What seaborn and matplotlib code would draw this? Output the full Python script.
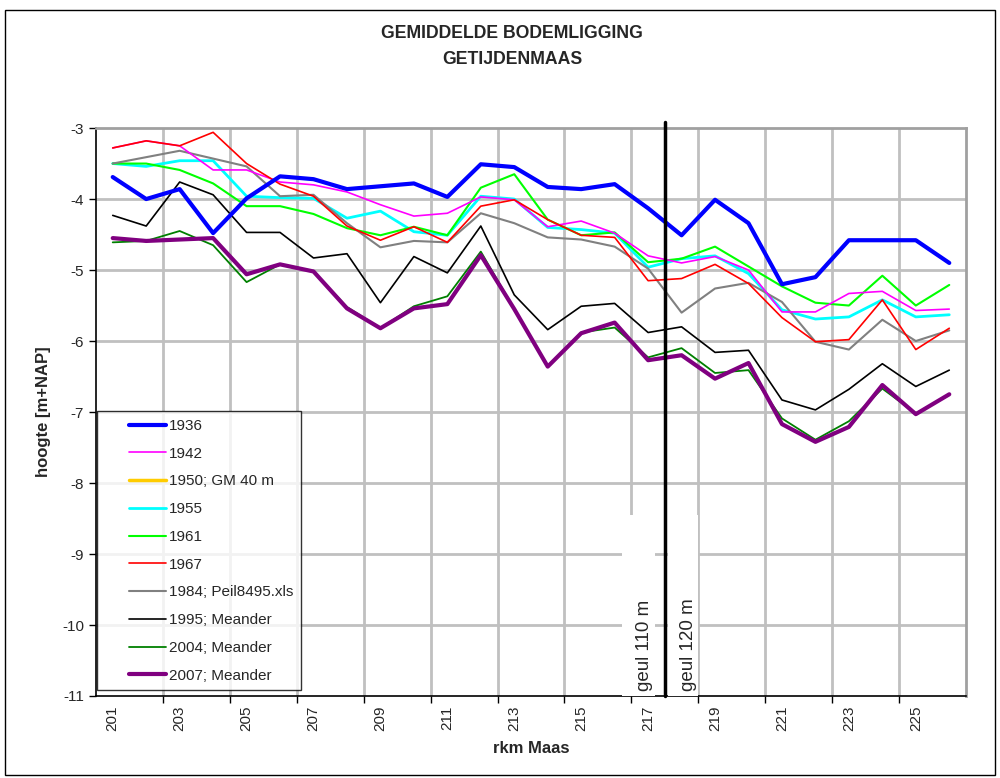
import numpy as np
import pandas as pd
import matplotlib
matplotlib.use("Agg")
import matplotlib.pyplot as plt
from matplotlib.lines import Line2D
from matplotlib.patches import Rectangle
from matplotlib.legend_handler import HandlerLine2D
import seaborn as sns

# rkm along the river
rkm = list(range(201, 227))

# mean bed level per survey year [m+NAP]
y1936 = [-3.69, -4.00, -3.86, -4.48, -3.99, -3.68, -3.72, -3.86, -3.82, -3.78, -3.97, -3.51, -3.55,
         -3.83, -3.86, -3.79, -4.13, -4.51, -4.01, -4.34, -5.20, -5.10, -4.58, -4.58, -4.58, -4.90]
y1942 = [-3.28, -3.18, -3.25, -3.59, -3.59, -3.76, -3.80, -3.90, -4.08, -4.24, -4.20, -3.97, -4.01,
         -4.39, -4.31, -4.48, -4.80, -4.90, -4.81, -5.00, -5.59, -5.59, -5.33, -5.30, -5.57, -5.55]
y1950 = [np.nan] * 26
y1955 = [-3.50, -3.54, -3.46, -3.46, -3.96, -3.98, -3.99, -4.27, -4.17, -4.46, -4.51, -3.96, -4.00,
         -4.40, -4.43, -4.48, -4.96, -4.84, -4.80, -5.05, -5.56, -5.69, -5.66, -5.42, -5.66, -5.63]
y1961 = [-3.50, -3.50, -3.59, -3.78, -4.10, -4.10, -4.21, -4.41, -4.51, -4.39, -4.51, -3.84, -3.65,
         -4.29, -4.51, -4.47, -4.89, -4.84, -4.67, -4.95, -5.23, -5.46, -5.50, -5.08, -5.50, -5.21]
y1967 = [-3.28, -3.18, -3.25, -3.06, -3.50, -3.79, -3.96, -4.38, -4.58, -4.39, -4.61, -4.10, -4.01,
         -4.29, -4.51, -4.54, -5.15, -5.12, -4.92, -5.19, -5.67, -6.01, -5.98, -5.42, -6.12, -5.82]
y1984 = [-3.50, -3.41, -3.32, -3.43, -3.54, -3.96, -3.94, -4.34, -4.68, -4.59, -4.61, -4.20, -4.34,
         -4.54, -4.57, -4.67, -4.98, -5.60, -5.26, -5.18, -5.45, -6.01, -6.12, -5.70, -6.00, -5.85]
y1995 = [-4.23, -4.38, -3.76, -3.94, -4.47, -4.47, -4.83, -4.77, -5.46, -4.81, -5.04, -4.38, -5.35,
         -5.84, -5.51, -5.47, -5.88, -5.80, -6.16, -6.13, -6.83, -6.97, -6.68, -6.32, -6.64, -6.41]
y2004 = [-4.61, -4.59, -4.45, -4.65, -5.17, -4.92, -5.02, -5.52, -5.82, -5.51, -5.37, -4.74, -5.55,
         -6.36, -5.88, -5.81, -6.23, -6.10, -6.45, -6.41, -7.09, -7.39, -7.13, -6.67, -7.02, -6.76]
y2007 = [-4.55, -4.59, -4.57, -4.55, -5.06, -4.92, -5.02, -5.54, -5.82, -5.54, -5.48, -4.79, -5.55,
         -6.36, -5.89, -5.74, -6.27, -6.20, -6.53, -6.31, -7.17, -7.42, -7.21, -6.62, -7.03, -6.75]

labels = ["1936", "1942", "1950; GM 40 m", "1955", "1961", "1967",
          "1984; Peil8495.xls", "1995; Meander", "2004; Meander", "2007; Meander"]
series = [y1936, y1942, y1950, y1955, y1961, y1967, y1984, y1995, y2004, y2007]
colors = ["#0000FF", "#FF00FF", "#FFCC00", "#00FFFF", "#00FF00", "#FF0000",
          "#808080", "#000000", "#008000", "#800080"]
widths = [3.0, 1.2, 2.5, 2.0, 1.5, 1.2, 1.5, 1.2, 1.3, 3.0]
order = [2, 3, 4, 6, 1, 5, 7, 8, 9, 0]  # drawing order (last on top)


class PadHandler(HandlerLine2D):
    # leave an empty strip left of the legend line, like the excel legend
    def get_xdata(self, legend, xdescent, ydescent, width, height, fontsize):
        x0 = -xdescent + width * 0.4
        x1 = -xdescent + width
        return np.array([x0, x1]), np.array([(x0 + x1) / 2])


sns.set_style("white")
plt.rcParams['font.family'] = ['Liberation Sans', 'DejaVu Sans']

fig = plt.figure(figsize=(10, 7.78), dpi=100)
ax = fig.add_axes([0.096, 0.1054, 0.87, 0.730])

for i in order:
    sns.lineplot(x=rkm, y=series[i], ax=ax, color=colors[i], lw=widths[i], zorder=3 + order.index(i))

ax.set_xlim(200.5, 226.5)
ax.set_ylim(-11, -3)

# grid
for gx in np.arange(202.5, 225.5, 2):
    ax.axvline(gx, color="#c0c0c0", lw=2, zorder=1)
for gy in range(-10, -3):
    ax.axhline(gy, color="#c0c0c0", lw=2, zorder=1)

ax.set_xticks(range(201, 227, 2))
ax.set_xticklabels([str(v) for v in range(201, 227, 2)], rotation=90, fontsize=11)
ax.set_xticks(np.arange(202.5, 226, 2), minor=True)
ax.tick_params(axis="x", which="major", length=0, pad=7)
ax.tick_params(axis="x", which="minor", length=5, width=1, direction="out", color="black", bottom=True)
ax.set_yticks(range(-11, -2))
ax.set_yticklabels([str(v) for v in range(-11, -2)], fontsize=11)
ax.tick_params(axis="y", length=5, width=1, direction="out", color="black", left=True)

for s in ["top", "right"]:
    ax.spines[s].set_color("#a0a0a0")
    ax.spines[s].set_linewidth(2)
for s in ["left", "bottom"]:
    ax.spines[s].set_color("black")
    ax.spines[s].set_linewidth(1.2)

ax.set_xlabel("rkm Maas", fontsize=12, fontweight="bold", labelpad=7)
ax.set_ylabel("hoogte [m+NAP]", fontsize=12, fontweight="bold", labelpad=8)

# channel width change
ax.axvline(217.5, ymin=0, ymax=1.01, color="black", lw=2.5, zorder=20, clip_on=False)
ax.add_patch(Rectangle((216.22, -11), 0.99, 2.55, facecolor="white", edgecolor="none", zorder=14))
ax.add_patch(Rectangle((217.58, -11), 0.9, 2.55, facecolor="white", edgecolor="none", zorder=14))
ax.text(216.88, -10.93, "geul 110 m", rotation=90, ha="center", va="bottom",
        fontsize=13.5, zorder=15)
ax.text(218.2, -10.93, "geul 120 m", rotation=90, ha="center", va="bottom",
        fontsize=13.5, zorder=15)

handles = [Line2D([0], [0], color=c, lw=w) for c, w in zip(colors, widths)]
leg = ax.legend(handles, labels, loc="lower left", bbox_to_anchor=(0.001, 0.01),
                fontsize=11, frameon=True, fancybox=False, edgecolor="black",
                handlelength=4.0, handletextpad=0.2, labelspacing=0.9,
                borderpad=0.5, borderaxespad=0,
                handler_map={Line2D: PadHandler()})
leg.get_frame().set_linewidth(1)
leg.set_zorder(30)

fig.text(0.512, 1 - 33 / 778, "GEMIDDELDE BODEMLIGGING", ha="center", va="center",
         fontsize=12.7, fontweight="bold")
fig.text(0.512, 1 - 59 / 778, "GETIJDENMAAS", ha="center", va="center",
         fontsize=12.7, fontweight="bold")

fig.patches.append(Rectangle((0.005, 0.004), 0.99, 1 - 10 / 778 - 0.004, transform=fig.transFigure,
                             fill=False, edgecolor="black", lw=1))

fig.savefig("out.png", dpi=100)
